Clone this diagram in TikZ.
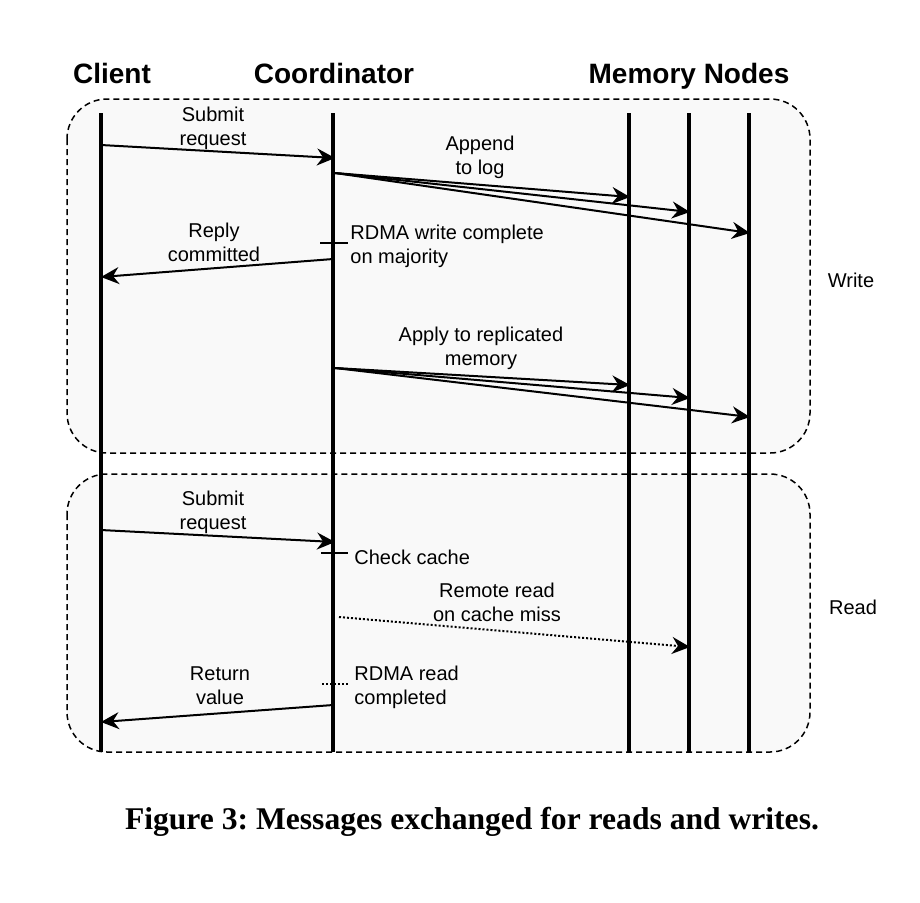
\documentclass[tikz,border=0pt]{standalone}
\usepackage{fontspec}
\setmainfont{Liberation Sans}
\newfontfamily\capfont{Liberation Serif}
\usepackage{tikz}
\usetikzlibrary{arrows.meta}
\usetikzlibrary{positioning}
\definecolor{boxgray}{HTML}{F9F9F9}
\tikzstyle{lifeline}=[draw=black,line width=2pt]
\tikzstyle{phase}=[draw=black,fill=boxgray,line width=0.75pt,dash pattern=on 3pt off 2pt,rounded corners=20pt]
\tikzstyle{msg} = [draw,line width=1pt,-{Stealth[length=9pt,width=8.5pt,inset=3pt]}]
\tikzstyle{dotmsg} = [msg,dash pattern=on 1pt off 1pt]
\tikzstyle{tick} = [draw,line width=1pt]
\tikzstyle{header} = [font=\fontsize{14}{16}\selectfont\bfseries,inner sep=0pt,anchor=base]
\tikzstyle{label} = [font=\fontsize{10}{12}\selectfont,inner sep=0pt,align=center]
\tikzstyle{note} = [label,align=left,anchor=west]

\begin{document}
\frenchspacing
\begin{tikzpicture}[x=0.5pt,y=-0.5pt]
    \useasboundingbox (0,0) rectangle (920,902);

    % Phase boxes
    \draw[phase] (67,99) rectangle (810,453);
    \draw[phase] (67,474) rectangle (810,752);
    \node[label] (write) at (851,280) {Write};
    \node[label] (read) at (853,607) {Read};

    % Headers
    \node[header] (client) at (112,83) {Client};
    \node[header] (coord) at (334,83) {Coordinator};
    \node[header] (mem) at (689,83) {Memory Nodes};

    % Lifelines
    \foreach \x/\name in {101/cl, 333/co, 629/ma, 689/mb, 749/mc}
    {
        \coordinate (\name top) at (\x,113);
        \coordinate (\name bot) at (\x,752);
        \draw[lifeline] (\name top) -- (\name bot);
    }

    % Write phase
    \coordinate (sw1) at (101,145);
    \coordinate (sw2) at (335,158);
    \draw[msg] (sw1) -- (sw2);
    \node[label] (subw) at (213,128) {Submit\\request};

    \coordinate (ap) at (335,173);
    \foreach \x/\y/\name in {630/197/apa, 690/212/apb, 750/233/apc}
    {
        \coordinate (\name) at (\x,\y);
        \draw[msg] (ap) -- (\name);
    }
    \node[label] (append) at (480,157) {Append\\to log};

    \coordinate (wca) at (320,243);
    \coordinate (wcb) at (348,243);
    \draw[tick] (wca) -- (wcb);
    \node[note] (wdone) at (350,246) {RDMA write complete\\on majority};

    \coordinate (rp1) at (333,259);
    \coordinate (rp2) at (101,277);
    \draw[msg] (rp1) -- (rp2);
    \node[label] (reply) at (214,242) {Reply\\committed};

    \coordinate (am) at (335,368);
    \foreach \x/\y/\name in {630/385/ama, 690/398/amb, 750/417/amc}
    {
        \coordinate (\name) at (\x,\y);
        \draw[msg] (am) -- (\name);
    }
    \node[label] (apply) at (481,348) {Apply to replicated\\memory};

    % Read phase
    \coordinate (sr1) at (101,530);
    \coordinate (sr2) at (335,542);
    \draw[msg] (sr1) -- (sr2);
    \node[label] (subr) at (213,512) {Submit\\request};

    \coordinate (cca) at (321,553);
    \coordinate (ccb) at (348,553);
    \draw[tick] (cca) -- (ccb);
    \node[note] (check) at (354,557) {Check cache};

    \coordinate (rr1) at (339,617);
    \coordinate (rr2) at (690,647);
    \draw[dotmsg] (rr1) -- (rr2);
    \node[label] (remote) at (497,602) {Remote read\\on cache miss};

    \coordinate (rda) at (322,684);
    \coordinate (rdb) at (348,684);
    \draw[tick,dash pattern=on 1pt off 1pt] (rda) -- (rdb);
    \node[note] (rdone) at (354,687) {RDMA read\\completed};

    \coordinate (rv1) at (333,705);
    \coordinate (rv2) at (101,722);
    \draw[msg] (rv1) -- (rv2);
    \node[label] (ret) at (220,686) {Return\\value};

    % Caption
    \node[inner sep=0pt,anchor=base,font=\capfont\fontsize{15.8}{18}\selectfont\bfseries] (cap) at (472,829) {Figure 3: Messages exchanged for reads and writes.};
\end{tikzpicture}
\end{document}
